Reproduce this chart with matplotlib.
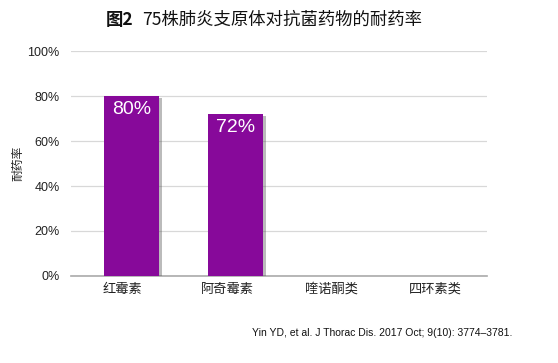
import numpy as np
import matplotlib.pyplot as plt
import matplotlib.patheffects as pe

plt.rcParams['font.family'] = ['Liberation Sans', 'Noto Sans CJK SC', 'DejaVu Sans']

# ── Datos ────────────────────────────────────────────────────────────────────
categorias = ['红霉素', '阿奇霉素', '喹诺酮类', '四环素类']
resistencia = [80, 72, 0, 0]          # % de resistencia
etiquetas = ['80%', '72%', '', '']

titulo_a = '图2'
titulo_b = '75株肺炎支原体对抗菌药物的耐药率'
cita = 'Yin YD, et al. J Thorac Dis. 2017 Oct; 9(10): 3774–3781.'

color_barra = '#87099a'

fig = plt.figure(figsize=(5.58, 3.63), dpi=100)
ax = fig.add_axes([0.127, 0.240, 0.746, 0.619])

x = np.arange(len(categorias))
offset = 0.08
sombra = [pe.SimplePatchShadow(offset=(2.5, -1.5), shadow_rgbFace='#555555', alpha=0.4), pe.Normal()]
bars = ax.bar(x + offset, resistencia, width=0.53, color=color_barra, zorder=3,
              path_effects=sombra)

for bar, lab in zip(bars, etiquetas):
    if lab:
        ax.text(bar.get_x() + bar.get_width() / 2, bar.get_height() - 6, lab,
                ha='center', va='center', color='white', fontsize=14, zorder=4)

ax.set_xlim(-0.5, 3.5)
ax.set_ylim(0, 100)
ax.set_yticks(np.arange(0, 101, 20))
ax.set_yticklabels([f'{v}%' for v in range(0, 101, 20)], fontsize=9, color='#222222')
ax.set_xticks(x)
ax.set_xticklabels(categorias, fontsize=9.5, family=['Noto Sans CJK SC'], color='#222222')
ax.tick_params(length=0, pad=8)
ax.tick_params(axis='x', pad=5)

ax.grid(True, axis='y', color='#d8d8d8', linewidth=0.9, zorder=0)
for s in ['top', 'right', 'left']:
    ax.spines[s].set_visible(False)
ax.spines['bottom'].set_color('#aaaaaa')
ax.spines['bottom'].set_linewidth(1.2)

fig.text(18 / 558, 1 - 163 / 363, '耐药率', rotation=90, ha='center', va='center',
         fontsize=8.5, family=['Noto Sans CJK SC'], color='#222222')

# Título: "图2" en negrita, resto normal
t1 = fig.text(106 / 558, 1 - 20 / 363, titulo_a, ha='left', va='center',
              fontsize=12.5, fontweight='bold', family=['Noto Sans CJK SC'], color='#111111')
fig.text(142 / 558, 1 - 20 / 363, titulo_b, ha='left', va='center',
         fontsize=12.5, fontweight='medium', family=['Noto Sans CJK SC'], color='#111111')

fig.text(512 / 558, 1 - 333 / 363, cita, ha='right', va='center',
         fontsize=7.5, color='#111111')

plt.savefig('out.png', dpi=100)
